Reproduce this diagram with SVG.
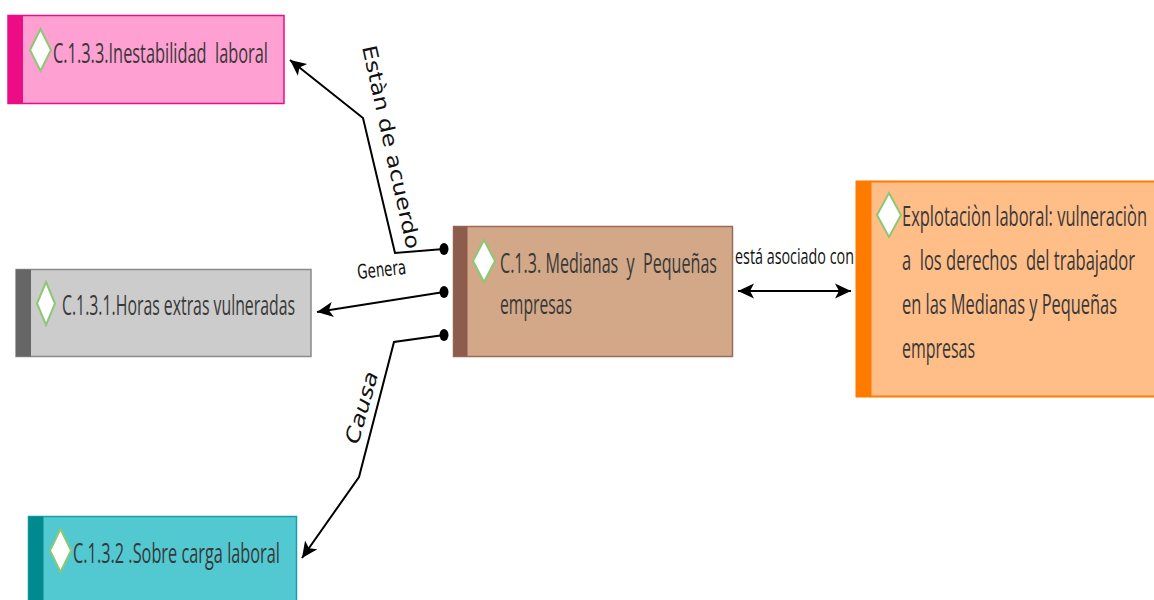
<svg xmlns="http://www.w3.org/2000/svg" width="1154" height="600" viewBox="0 0 1154 600">
<style>
.nt{font-family:"Open Sans","Liberation Sans",sans-serif;font-size:28px;font-weight:500;fill:#383838;white-space:pre}
.lbl{font-family:"DejaVu Sans","Liberation Sans",sans-serif;font-size:20px;fill:#111;white-space:pre}
.lbl2{font-family:"Open Sans","Liberation Sans",sans-serif;font-size:21px;fill:#111;white-space:pre}
.dia{fill:#fff;stroke:#8cc873;stroke-width:2}
.con{fill:none;stroke:#000;stroke-width:2}
.dot{fill:#000}
</style>
<defs>
<marker id="arr" markerUnits="userSpaceOnUse" markerWidth="18" markerHeight="18" viewBox="0 0 18 18" refX="16" refY="9" orient="auto-start-reverse">
<path d="M0,1.5 L16,9 L0,16.5 L4,9 Z" fill="#000"/>
</marker>
</defs>
<rect width="1154" height="600" fill="#fff"/>

<g id="connectors">
<polyline class="con" points="444,249 395,253 363,118 290,60" marker-end="url(#arr)"/>
<polyline class="con" points="444,292 317,312" marker-end="url(#arr)"/>
<polyline class="con" points="444,335 394,342 359,477 302,558" marker-end="url(#arr)"/>
<line class="con" x1="738" y1="291" x2="851" y2="291" marker-start="url(#arr)" marker-end="url(#arr)"/>
<ellipse class="dot" cx="444" cy="249" rx="4.5" ry="6"/>
<ellipse class="dot" cx="444" cy="292" rx="4.5" ry="6"/>
<ellipse class="dot" cx="444" cy="335" rx="4.5" ry="6"/>
<text class="lbl" transform="translate(362,47) rotate(77.5)" textLength="208" lengthAdjust="spacingAndGlyphs">Estàn de acuerdo</text>
<text class="lbl" transform="translate(358,279) rotate(-6) scale(0.67,1)" textLength="73" lengthAdjust="spacingAndGlyphs">Genera</text>
<text class="lbl" font-style="italic" transform="translate(358,445) rotate(-74)" textLength="74" lengthAdjust="spacingAndGlyphs">Causa</text>
<text class="lbl2" transform="translate(735,264) scale(0.67,1)" textLength="177.6" lengthAdjust="spacingAndGlyphs">está asociado con</text>
</g>

<g id="node-c133">
<rect x="8" y="15.5" width="276" height="88" fill="#ffa0d2" stroke="#ec0c86" stroke-width="1.5"/>
<rect x="8" y="15.5" width="15" height="88" fill="#ec0c86"/>
<polygon class="dia" points="40.5,29 51,50 40.5,71 30,50"/>
<text class="nt" transform="translate(53,63) scale(0.56,1)" textLength="383.9" lengthAdjust="spacingAndGlyphs">C.1.3.3.Inestabilidad  laboral</text>
</g>

<g id="node-c131">
<rect x="16" y="269.5" width="295" height="87" fill="#cccccc" stroke="#8a8a8a" stroke-width="1.5"/>
<rect x="16" y="269.5" width="15" height="87" fill="#666666"/>
<polygon class="dia" points="46,282 55,303.5 46,325 37,303.5"/>
<text class="nt" transform="translate(62,315) scale(0.56,1)" textLength="416.1" lengthAdjust="spacingAndGlyphs">C.1.3.1.Horas extras vulneradas</text>
</g>

<g id="node-c132">
<rect x="28.5" y="516.5" width="268" height="95" fill="#52c9d1" stroke="#17a0a8" stroke-width="1.5"/>
<rect x="28.5" y="516.5" width="15" height="95" fill="#008a90"/>
<polygon class="dia" points="60.5,529 71,550.5 60.5,572 50,550.5"/>
<text class="nt" transform="translate(73,563) scale(0.56,1)" textLength="369.6" lengthAdjust="spacingAndGlyphs">C.1.3.2 .Sobre carga laboral</text>
</g>

<g id="node-c13">
<rect x="453.5" y="226.5" width="279" height="130" fill="#d2a888" stroke="#9a6b5a" stroke-width="1.5"/>
<rect x="453.5" y="226.5" width="14" height="130" fill="#8e5c4c"/>
<polygon class="dia" points="484,240 495,261 484,282 473,261"/>
<text class="nt" transform="translate(500,273) scale(0.56,1)" textLength="387.5" lengthAdjust="spacingAndGlyphs">C.1.3. Medianas  y  Pequeñas</text>
<text class="nt" transform="translate(500,314) scale(0.56,1)" textLength="128.6" lengthAdjust="spacingAndGlyphs">empresas</text>
</g>

<g id="node-explotacion">
<rect x="856.5" y="181.5" width="305" height="215" fill="#ffbe88" stroke="#ff7b00" stroke-width="2"/>
<rect x="856.5" y="181.5" width="15" height="215" fill="#ff7b00"/>
<polygon class="dia" points="889,193 901,215 889,237 877,215"/>
<text class="nt" transform="translate(902,226) scale(0.56,1)" textLength="437.5" lengthAdjust="spacingAndGlyphs">Explotaciòn laboral: vulneraciòn</text>
<text class="nt" transform="translate(902,270) scale(0.56,1)" textLength="416.1" lengthAdjust="spacingAndGlyphs">a  los derechos  del trabajador</text>
<text class="nt" transform="translate(902,314) scale(0.56,1)" textLength="383.9" lengthAdjust="spacingAndGlyphs">en las Medianas y Pequeñas</text>
<text class="nt" transform="translate(902,358) scale(0.56,1)" textLength="130.4" lengthAdjust="spacingAndGlyphs">empresas</text>
</g>
</svg>
